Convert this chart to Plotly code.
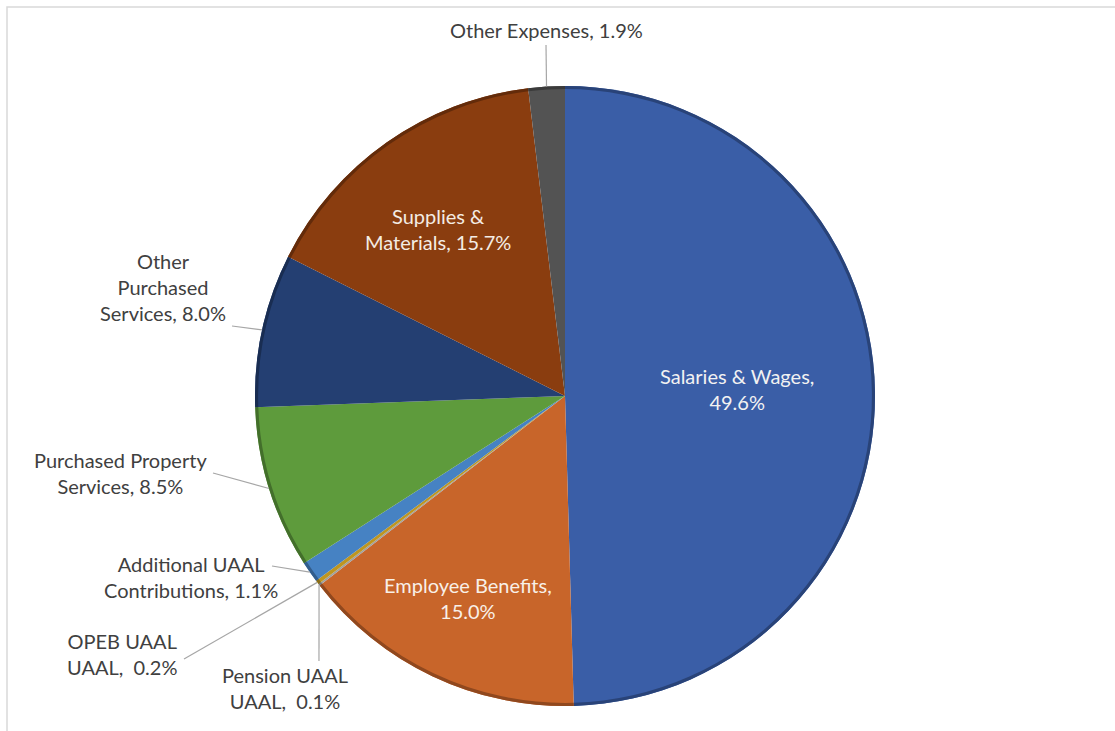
import math
import plotly.graph_objects as go

# Expenditure shares (percent), in clockwise order from 12 o'clock
categories = [
    "Salaries & Wages",
    "Employee Benefits",
    "Pension UAAL UAAL",
    "OPEB UAAL UAAL",
    "Additional UAAL Contributions",
    "Purchased Property Services",
    "Other Purchased Services",
    "Supplies & Materials",
    "Other Expenses",
]
values = [49.6, 15.0, 0.1, 0.2, 1.1, 8.5, 8.0, 15.7, 1.9]

colors = [
    "#3A5EA7", "#C8652A", "#A0A0A0", "#BE9620", "#4682C3",
    "#5E9B3C", "#243F72", "#8A3D0F", "#535353",
]

# How each category label is wrapped on the chart
wrapped = [
    "Salaries & Wages,<br>{v}",
    "Employee Benefits,<br>{v}",
    "Pension UAAL<br>UAAL,\u00a0\u00a0{v}",
    "OPEB UAAL<br>UAAL,\u00a0\u00a0{v}",
    "Additional UAAL<br>Contributions, {v}",
    "Purchased Property<br>Services, {v}",
    "Other<br>Purchased<br>Services, {v}",
    "Supplies &<br>Materials, {v}",
    "Other Expenses, {v}",
]

W, H = 1115, 731
CX, CY, R = 565, 396, 310  # pie centre and radius in pixels

# label placement (pixel centre), text colour, leader-line start (or None)
placement = [
    ((737, 389), "#F2F2F2", None),
    ((468, 598), "#F8F0E8", None),
    ((285, 688), "#404040", (319, 661)),
    ((122, 654), "#404040", (184, 659)),
    ((191, 577), "#404040", (272, 566)),
    ((120, 473), "#404040", (213, 473)),
    ((163, 287), "#404040", (232, 326)),
    ((438, 229), "#F4ECE4", None),
    ((546, 30), "#404040", (546, 45)),
]


def px(x):
    return x / W


def py(y):
    return 1 - y / H


def darken(hex_color, f=0.72):
    h = hex_color.lstrip("#")
    r, g, b = (int(h[i:i + 2], 16) for i in (0, 2, 4))
    return "#{:02X}{:02X}{:02X}".format(int(r * f), int(g * f), int(b * f))


domain = dict(x=[px(CX - R), px(CX + R)], y=[py(CY + R), py(CY - R)])

fig = go.Figure()
fig.add_trace(
    go.Pie(
        labels=categories,
        values=values,
        sort=False,
        direction="clockwise",
        rotation=0,
        textinfo="none",
        marker=dict(colors=colors, line=dict(width=0)),
        domain=domain,
        showlegend=False,
        hoverinfo="label+percent",
    )
)
# thin darker rim around the outer edge for a bevelled look
fig.add_trace(
    go.Pie(
        labels=categories,
        values=values,
        sort=False,
        direction="clockwise",
        rotation=0,
        hole=0.99,
        textinfo="none",
        marker=dict(colors=[darken(c) for c in colors], line=dict(width=0)),
        domain=domain,
        showlegend=False,
        hoverinfo="skip",
    )
)

total = sum(values)
annotations = []
shapes = []
cum = 0.0
for name, val, fmt, (pos, tcolor, lead) in zip(categories, values, wrapped, placement):
    mid = (cum + val / 2) / total * 2 * math.pi
    cum += val
    ex = CX + R * math.sin(mid)
    ey = CY - R * math.cos(mid)
    annotations.append(
        dict(
            x=px(pos[0]), y=py(pos[1]), xref="paper", yref="paper",
            text=fmt.format(v=f"{val:.1f}%"), showarrow=False,
            xanchor="center", yanchor="middle", align="center",
            font=dict(family="Lato, Open Sans, sans-serif", size=20, color=tcolor),
        )
    )
    if lead is not None:
        shapes.append(
            dict(
                type="line", xref="paper", yref="paper",
                x0=px(lead[0]), y0=py(lead[1]), x1=px(ex), y1=py(ey),
                line=dict(color="#A6A6A6", width=1.2),
            )
        )

# chart-area frame
shapes.append(
    dict(
        type="rect", xref="paper", yref="paper",
        x0=px(7), y0=py(7), x1=px(W + 10), y1=py(H + 10),
        line=dict(color="#D9D9D9", width=1.5), fillcolor="rgba(0,0,0,0)",
    )
)

fig.update_layout(
    width=W, height=H,
    margin=dict(l=0, r=0, t=0, b=0),
    paper_bgcolor="white",
    plot_bgcolor="white",
    annotations=annotations,
    shapes=shapes,
)

fig.write_html("out.html")
